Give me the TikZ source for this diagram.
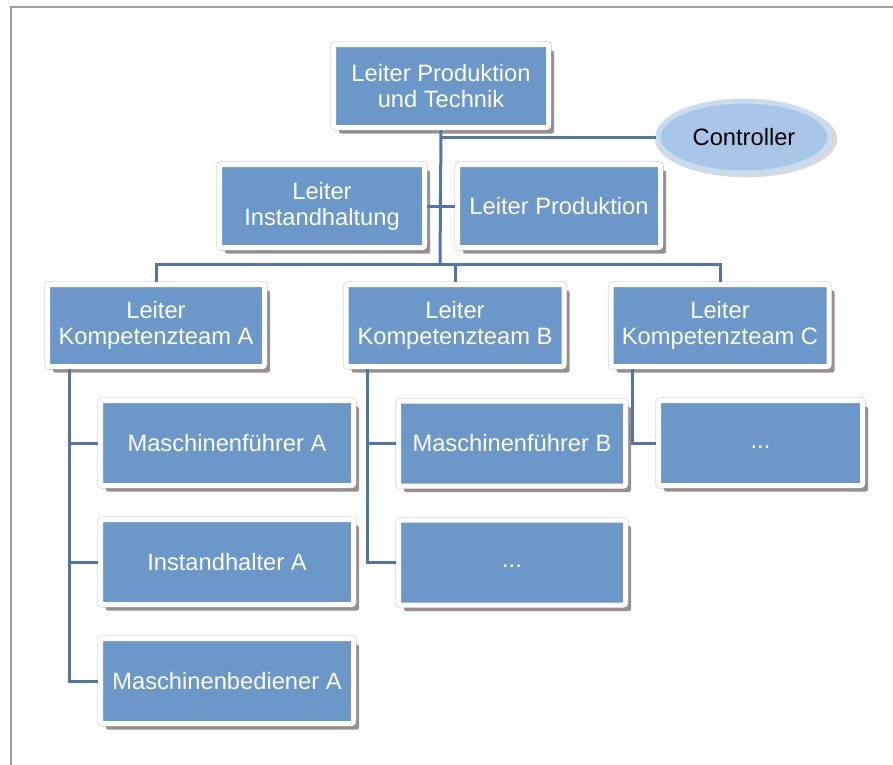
\documentclass[tikz,border=0pt]{standalone}
\usepackage{fontspec}
\setmainfont{Liberation Sans}
\usepackage{tikz}
\usetikzlibrary{shapes.geometric,shadows}
\definecolor{boxblue}{RGB}{107,152,201}
\definecolor{linkblue}{RGB}{80,118,168}
\definecolor{ctrlblue}{RGB}{168,199,232}
\definecolor{ctrlrim}{RGB}{200,219,239}
\definecolor{shadowgray}{RGB}{152,144,144}
\tikzstyle{block} = [rectangle, rounded corners=2pt, fill=boxblue, draw=white, line width=5pt, text=white, align=center, inner sep=2pt, minimum height=83pt, font=\fontsize{23.7}{26}\selectfont, preaction={draw=black!15, line width=6.5pt}, drop shadow={shadow xshift=5.5pt, shadow yshift=-6pt, fill=shadowgray, opacity=1}]
\tikzstyle{staff} = [block, minimum height=85pt]
\tikzstyle{oval} = [ellipse, fill=ctrlblue, draw=ctrlrim, line width=5pt, text=black, minimum width=172pt, minimum height=72pt, font=\fontsize{23.7}{26}\selectfont, drop shadow={shadow xshift=2pt, shadow yshift=-2pt, shadow scale=1.06, fill=black!30, opacity=0.5}]
\tikzstyle{link} = [draw=linkblue, line width=3pt]

\begin{document}
\begin{tikzpicture}[x=1pt, y=-1pt]
		\useasboundingbox (0,0) rectangle (893,764);
		\draw [gray!75, line width=1.2pt] (11,7) rectangle (910,780);

		\node [block, minimum width=215pt] (PT) at (441,86) {Leiter Produktion\\und Technik};
		\node [oval] (Ctrl) at (744,137) {Controller};
		\node [block, minimum width=205pt] (LI) at (322,206) {Leiter\\Instandhaltung};
		\node [block, minimum width=203pt] (LP) at (559,206) {Leiter Produktion};

		\node [block, minimum width=217pt, minimum height=82pt] (KA) at (156,325.5) {Leiter\\Kompetenzteam A};
		\node [block, minimum width=218pt, minimum height=82pt, right of=KA, node distance=299pt] (KB) {Leiter\\Kompetenzteam B};
		\node [block, minimum width=218pt, minimum height=82pt, right of=KB, node distance=265pt] (KC) {Leiter\\Kompetenzteam C};

		\node [staff, minimum width=253pt] (MA) at (227,443) {Maschinenführer A};
		\node [staff, minimum width=253pt, below of=MA, node distance=119pt] (IA) {Instandhalter A};
		\node [staff, minimum width=253pt, below of=IA, node distance=119pt] (MbA) {Maschinenbediener A};
		\node [staff, minimum width=227pt] (MB) at (512,443.5) {Maschinenführer B};
		\node [staff, minimum width=227pt, below of=MB, node distance=119pt] (DB) {\strut...};
		\node [staff, minimum width=204pt] (DC) at (760.5,443) {\strut...};

		\coordinate (split) at (440,264);
		\coordinate (colA) at ([xshift=24pt]KA.south west);
		\coordinate (colB) at ([xshift=24pt]KB.south west);
		\coordinate (colC) at ([xshift=24pt]KC.south west);

		\draw [link] (PT.south) -- (split);
		\draw [link] (PT.south |- Ctrl.west) -- (Ctrl.west);
		\draw [link] (LI.east) -- (LP.west);
		\draw [link] (KA.north) |- (split) -| (KC.north);
		\draw [link] (split -| KB.north) -- (KB.north);

		\draw [link] (colA) |- (MbA.west);
		\draw [link] (colA |- MA.west) -- (MA.west);
		\draw [link] (colA |- IA.west) -- (IA.west);
		\draw [link] (colB) |- (DB.west);
		\draw [link] (colB |- MB.west) -- (MB.west);
		\draw [link] (colC) |- (DC.west);
	\end{tikzpicture}
\end{document}
